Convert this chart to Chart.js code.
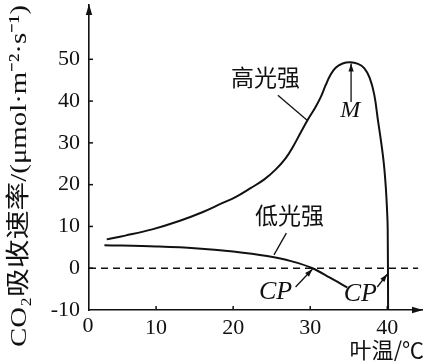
<!DOCTYPE html>
<html>
<head>
<meta charset="utf-8">
<script src="https://cdn.jsdelivr.net/npm/chart.js@4.4.1/dist/chart.umd.min.js"></script>
<style>
  html, body { margin: 0; padding: 0; background: #fff; }
  #box { width: 428px; height: 361px; }
</style>
</head>
<body>
<div id="box"><canvas id="c"></canvas></div>
<script>
// tick labels
const yTicks = [-10, 0, 10, 20, 30, 40, 50];
const xTicks = [10, 20, 30, 40];

// 高光强 curve (leaf temperature, CO2 uptake)
const highT = [3.6, 6, 9.5, 13, 16, 18.5, 20.3, 22.2, 24, 25.5, 26.8, 27.8, 28.8, 29.7, 30.5, 31.3, 32, 32.6, 33.3, 34.2, 35.2, 36.2, 37, 37.7, 38.3, 38.8, 39.2, 39.55, 39.8, 39.95, 40.05, 40.1];
const highV = [6.9, 7.8, 9.3, 11.3, 13.4, 15.5, 17, 19.1, 21.2, 23.6, 26.3, 29.2, 32.6, 35.6, 38, 40.7, 43.8, 46.2, 48, 49, 49.3, 48.9, 47.9, 45.6, 41.6, 35.2, 30.2, 25, 19.5, 14.5, 9.5, -10];

// 低光强 curve
const lowT = [3.3, 10, 15, 20, 24.4, 27.5, 30.3, 32.5, 34.8];
const lowV = [5.5, 5.2, 4.8, 4.0, 2.9, 1.7, 0, -2.2, -4.6];

// dashed zero line
const zeroT = [1.3, 44];
const zeroV = [0, 0];

const pts = (xs, ys) => xs.map((x, i) => ({ x: x, y: ys[i] }));

const ink = '#111';
const serif = '"Liberation Serif", "Noto Sans CJK SC", serif';
const cjk = '"Noto Sans CJK SC", sans-serif';

function arrowHead(ctx, x1, y1, x2, y2, len, half) {
  const a = Math.atan2(y2 - y1, x2 - x1);
  ctx.beginPath();
  ctx.moveTo(x2, y2);
  ctx.lineTo(x2 - len * Math.cos(a) + half * Math.sin(a), y2 - len * Math.sin(a) - half * Math.cos(a));
  ctx.lineTo(x2 - len * Math.cos(a) - half * Math.sin(a), y2 - len * Math.sin(a) + half * Math.cos(a));
  ctx.closePath();
  ctx.fill();
}

function arrow(ctx, x1, y1, x2, y2) {
  ctx.beginPath();
  ctx.moveTo(x1, y1);
  ctx.lineTo(x2, y2);
  ctx.stroke();
  arrowHead(ctx, x1, y1, x2, y2, 8, 2.6);
}

const decor = {
  id: 'decor',
  afterDraw(chart) {
    const ctx = chart.ctx;
    const xs = chart.scales.x, ys = chart.scales.y;
    const P = (t, v) => [xs.getPixelForValue(t), ys.getPixelForValue(v)];
    const a = chart.chartArea;
    ctx.save();
    ctx.strokeStyle = ink;
    ctx.fillStyle = ink;
    ctx.lineWidth = 1.5;

    // inner tick marks
    yTicks.forEach(v => {
      if (v === ys.min) return;
      const y = ys.getPixelForValue(v);
      ctx.beginPath(); ctx.moveTo(a.left, y); ctx.lineTo(a.left + 4, y); ctx.stroke();
    });
    xTicks.forEach(t => {
      const x = xs.getPixelForValue(t);
      ctx.beginPath(); ctx.moveTo(x, a.bottom); ctx.lineTo(x, a.bottom - 4); ctx.stroke();
    });

    // axis arrows
    arrowHead(ctx, a.left, a.bottom, a.left, a.top - 1, 11, 3.2);
    arrowHead(ctx, a.left, a.bottom, a.right + 1, a.bottom, 11, 3.2);

    // origin label
    ctx.font = '22px ' + serif;
    ctx.textAlign = 'center';
    ctx.textBaseline = 'top';
    ctx.fillText('0', a.left - 1, a.bottom + 5);

    // curve labels
    ctx.textBaseline = 'middle';
    ctx.font = '23px ' + cjk;
    let p = P(24.2, 45.7);
    ctx.fillText('高光强', p[0], p[1]);
    p = P(27.3, 12.7);
    ctx.fillText('低光强', p[0], p[1]);

    ctx.lineWidth = 1.3;
    let q1 = P(25.8, 41.4), q2 = P(29.6, 35.4);
    ctx.beginPath(); ctx.moveTo(q1[0], q1[1]); ctx.lineTo(q2[0], q2[1]); ctx.stroke();
    q1 = P(26.9, 8.4); q2 = P(25.3, 3.2);
    ctx.beginPath(); ctx.moveTo(q1[0], q1[1]); ctx.lineTo(q2[0], q2[1]); ctx.stroke();

    // M and CP marks
    ctx.font = 'italic 24px ' + serif;
    p = P(35.2, 37.6);
    ctx.fillText('M', p[0], p[1]);
    q1 = P(35.3, 39.8); q2 = P(35.3, 49.0);
    arrow(ctx, q1[0], q1[1], q2[0], q2[1]);

    ctx.font = 'italic 26px ' + serif;
    p = P(25.5, -5.7);
    ctx.fillText('CP', p[0], p[1]);
    q1 = P(28.1, -4.5); q2 = P(30.3, -0.2);
    arrow(ctx, q1[0], q1[1], q2[0], q2[1]);

    p = P(36.5, -6.2);
    ctx.fillText('CP', p[0], p[1]);
    q1 = P(38.7, -4.5); q2 = P(40, -1.4);
    arrow(ctx, q1[0], q1[1], q2[0], q2[1]);

    // axis titles
    ctx.font = '22px ' + cjk;
    ctx.textAlign = 'right';
    ctx.fillText('叶温/℃', 424, 350);

    const yTitle = 'CO₂吸收速率/(μmol·m⁻²·s⁻¹)';
    ctx.translate(20, 176);
    ctx.rotate(-Math.PI / 2);
    ctx.textAlign = 'center';
    ctx.font = '24px ' + serif;
    const w = ctx.measureText(yTitle).width;
    ctx.scale(342 / w, 1);
    ctx.fillText(yTitle, 0, 0);
    ctx.restore();
  }
};

new Chart(document.getElementById('c'), {
  type: 'line',
  data: {
    datasets: [
      {
        label: '高光强',
        data: pts(highT, highV),
        borderColor: ink,
        borderWidth: 2,
        pointRadius: 0,
        tension: 0.4,
        fill: false
      },
      {
        label: '低光强',
        data: pts(lowT, lowV),
        borderColor: ink,
        borderWidth: 2,
        pointRadius: 0,
        cubicInterpolationMode: 'monotone',
        fill: false
      },
      {
        label: '0',
        data: pts(zeroT, zeroV),
        borderColor: ink,
        borderWidth: 1.5,
        borderDash: [7, 5],
        pointRadius: 0,
        fill: false
      }
    ]
  },
  options: {
    responsive: true,
    maintainAspectRatio: false,
    animation: false,
    layout: { padding: { top: 5, right: 6, left: 0, bottom: 0 } },
    plugins: {
      legend: { display: false },
      tooltip: { enabled: false }
    },
    scales: {
      x: {
        type: 'linear',
        min: 1.3,
        max: 44.5,
        grid: { display: false, drawTicks: false },
        border: { color: ink, width: 1.6 },
        ticks: { color: ink, font: { family: serif, size: 22 }, padding: 5, maxRotation: 0 },
        afterBuildTicks: s => { s.ticks = xTicks.map(v => ({ value: v })); },
        afterFit: s => { s.height = 51; s.paddingLeft = 0; s.paddingRight = 0; }
      },
      y: {
        type: 'linear',
        min: -10,
        max: 63,
        grid: { display: false, drawTicks: false },
        border: { color: ink, width: 1.6 },
        ticks: { color: ink, font: { family: serif, size: 22 }, padding: 9 },
        afterBuildTicks: s => { s.ticks = yTicks.map(v => ({ value: v })); },
        afterFit: s => { s.width = 89; s.paddingTop = 0; s.paddingBottom = 0; }
      }
    }
  },
  plugins: [decor]
});
</script>
</body>
</html>
